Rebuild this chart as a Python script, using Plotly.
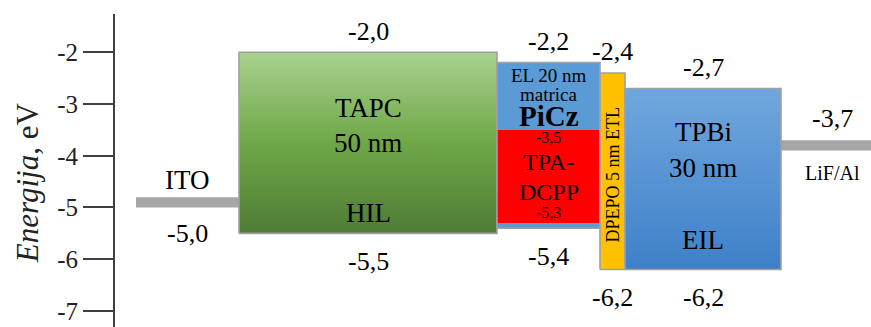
import plotly.graph_objects as go

# Energy levels (eV) of the device stack
layers = ["TAPC", "PiCz", "DPEPO", "TPBi"]
lumo = [-2.0, -2.2, -2.4, -2.7]
homo = [-5.5, -5.4, -6.2, -6.2]

# Electrodes
electrodes = ["ITO", "LiF/Al"]
work_function = [-5.0, -3.7]

# Emitter dopant inside the PiCz host
dopant = "TPA-DCPP"
dopant_lumo = -3.5
dopant_homo = -5.3

tick_values = [-2, -3, -4, -5, -6, -7]
tick_labels = ["-2", "-3", "-4", "-5", "-6", "-7"]

# ---- layout geometry (horizontal extent of each layer) ----
layer_x = {"TAPC": (239, 497), "PiCz": (497, 600), "DPEPO": (600, 625), "TPBi": (625, 781)}
electrode_x = {"ITO": (136, 239), "LiF/Al": (781, 871)}
bar_thickness = 0.2
X_RANGE = (115, 871)

FONT = "Liberation Serif"
BORDER = "#a0a0a0"


def fmt(v):
    return f"{v:.1f}".replace(".", ",")


def rect(x0, x1, y0, y1, **kw):
    return go.Scatter(
        x=[x0, x1, x1, x0, x0], y=[y0, y0, y1, y1, y0],
        mode="lines", fill="toself", hoverinfo="skip", showlegend=False, **kw)


fig = go.Figure()

# electrodes (thin grey bars)
ito_x = electrode_x["ITO"]
lif_x = electrode_x["LiF/Al"]
fig.add_trace(rect(ito_x[0], ito_x[1], work_function[0], work_function[0] + bar_thickness,
                   fillcolor="#a6a6a6", line=dict(width=0)))
fig.add_trace(rect(lif_x[0], lif_x[1], work_function[1] - bar_thickness, work_function[1],
                   fillcolor="#a6a6a6", line=dict(width=0)))

styles = {
    "TAPC": dict(fillgradient=dict(type="vertical",
                                   colorscale=[[0, "#4f7c35"], [0.5, "#6fa748"], [1, "#a9d28e"]])),
    "PiCz": dict(fillcolor="#5b9bd5"),
    "DPEPO": dict(fillcolor="#ffc000"),
    "TPBi": dict(fillgradient=dict(type="vertical",
                                   colorscale=[[0, "#3e80c8"], [1, "#70a7de"]])),
}

for name, lo, hi in zip(layers, homo, lumo):
    x0, x1 = layer_x[name]
    fig.add_trace(rect(x0, x1, lo, hi, line=dict(color=BORDER, width=1.6), **styles[name]))
    if name == "PiCz":
        fig.add_trace(rect(x0 + 0.8, x1 - 0.8, dopant_homo, dopant_lumo,
                           fillcolor="#ff0000", line=dict(width=0)))

annotations = []


def label(x, y, text, size, yshift=0, **kw):
    annotations.append(dict(x=x, y=y, xref="x", yref="y", text=text, showarrow=False,
                            xanchor="center", yanchor="middle", yshift=yshift,
                            font=dict(family=FONT, size=size, color="black"), **kw))


# level values above / below each layer
for name, lo, hi in zip(layers, homo, lumo):
    x0, x1 = layer_x[name]
    xc = (x0 + x1) / 2
    label(xc, hi, fmt(hi), 26, yshift=21)
    label(xc, lo, fmt(lo), 26, yshift=-28)

# electrode values and names
xc = sum(ito_x) / 2
label(xc, work_function[0], fmt(work_function[0]), 26, yshift=-26)
label(xc, -4.47, "ITO", 27)
xc = 832
label(xc, work_function[1], fmt(work_function[1]), 26, yshift=22)
label(xc, -4.33, "LiF/Al", 20)

# layer names
xc = sum(layer_x["TAPC"]) / 2
label(xc, -3.08, "TAPC", 27)
label(xc, -3.75, "50 nm", 27)
label(xc, -5.11, "HIL", 27)

xc = sum(layer_x["PiCz"]) / 2
label(xc, -2.45, "EL 20 nm", 19)
label(xc, -2.81, "matrica", 19)
label(xc, -3.23, "<b>PiCz</b>", 29)
label(xc, -3.64, fmt(dopant_lumo), 16)
label(xc, -4.12, "TPA-", 24)
label(xc, -4.70, "DCPP", 24)
label(xc, -5.09, fmt(dopant_homo), 16)

xc = sum(layer_x["DPEPO"]) / 2
label(xc, -4.37, "DPEPO 5 nm ETL", 18, textangle=-90)

xc = sum(layer_x["TPBi"]) / 2
label(xc, -3.54, "TPBi", 27)
label(xc, -4.24, "30 nm", 27)
label(xc, -5.63, "EIL", 27)

# axis title (placed in the left margin)
annotations.append(dict(x=(27 - X_RANGE[0]) / (X_RANGE[1] - X_RANGE[0]), y=-4.53,
                        xref="paper", yref="y",
                        text="<i>Energija</i>, eV", showarrow=False, textangle=-90,
                        xanchor="center", yanchor="middle",
                        font=dict(family=FONT, size=31, color="#222")))

fig.update_layout(
    width=871, height=327,
    margin=dict(l=115, r=0, t=14, b=0),
    paper_bgcolor="white", plot_bgcolor="white",
    annotations=annotations,
    xaxis=dict(range=list(X_RANGE), visible=False, fixedrange=True),
    yaxis=dict(range=[-7.31, -1.26], tickvals=tick_values, ticktext=tick_labels,
               ticks="outside", ticklen=30, tickwidth=1.6, tickcolor="#404040",
               showline=True, linecolor="#404040", linewidth=1.8,
               showgrid=False, zeroline=False, ticklabelstandoff=0,
               tickfont=dict(family=FONT, size=25, color="#222")),
)

fig.write_html("out.html")
